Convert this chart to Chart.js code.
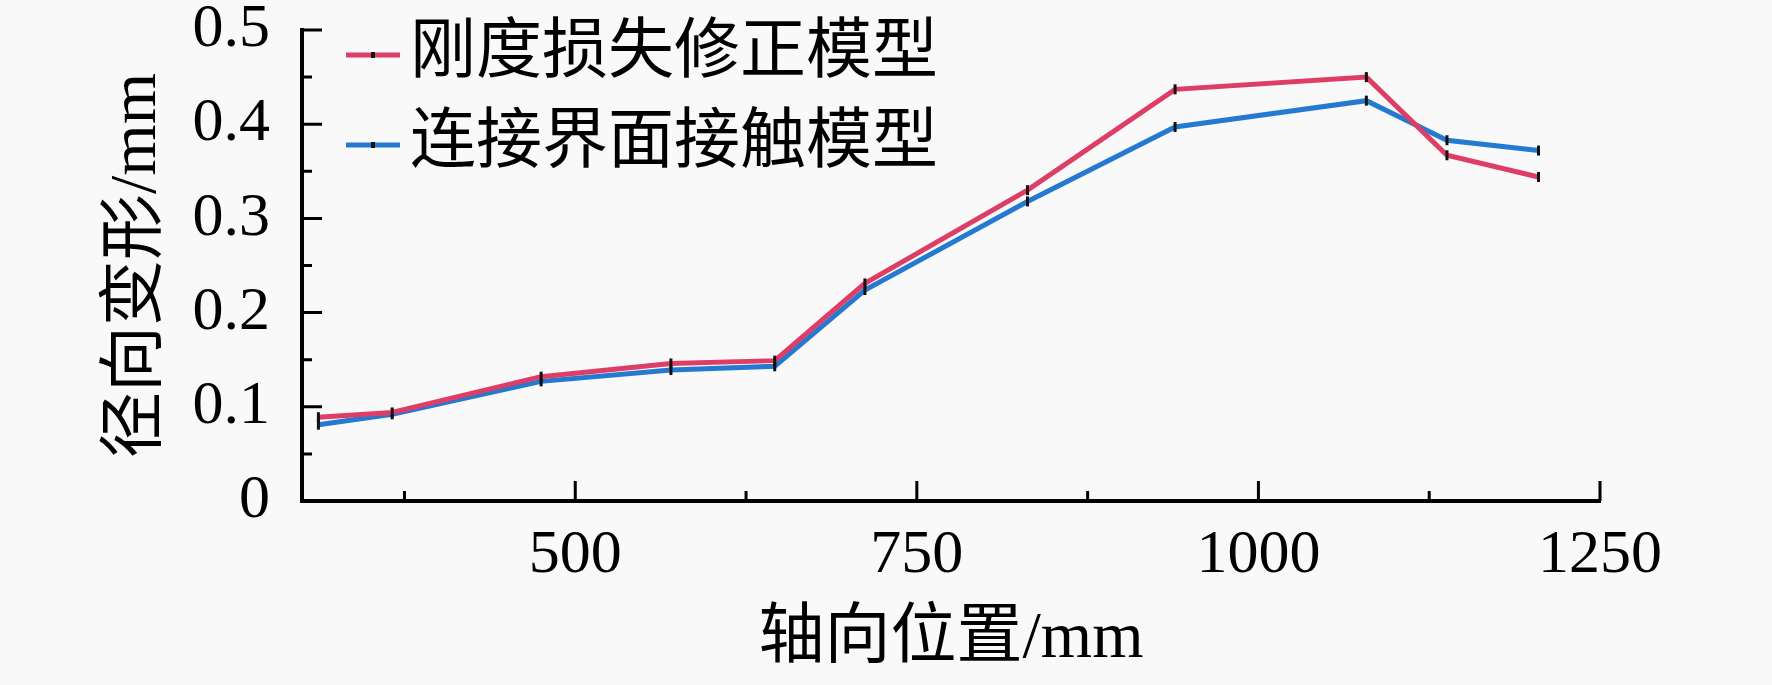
<!DOCTYPE html>
<html>
<head>
<meta charset="utf-8">
<script src="https://cdn.jsdelivr.net/npm/chart.js@4"></script>
<style>
  html, body { margin: 0; padding: 0; background: #f9f9f9; }
  #box { width: 1772px; height: 685px; }
</style>
</head>
<body>
<div id="box"><canvas id="grafico"></canvas></div>
<script>
const posicoes = [312, 366, 475, 570, 646, 712, 831, 939, 1079, 1138, 1205];
const rigidez = [0.089, 0.094, 0.132, 0.146, 0.149, 0.231, 0.330, 0.437, 0.450, 0.367, 0.344];
const contato = [0.081, 0.092, 0.127, 0.139, 0.143, 0.224, 0.318, 0.397, 0.425, 0.383, 0.372];
const nomes = ["刚度损失修正模型", "连接界面接触模型"];
const cores = ["#de3e66", "#2479d0"];
const xTicks = [500, 750, 1000, 1250];
const xMinor = [375, 625, 875, 1125];
const yTicks = [0, 0.1, 0.2, 0.3, 0.4, 0.5];
const yMinor = [0.05, 0.15, 0.25, 0.35, 0.45];

const fonte = '"Liberation Serif", "Noto Sans CJK SC", serif';

const pontos = vals => vals.map((v, i) => ({ x: posicoes[i], y: v }));

// inward tick marks, major and minor, plus the legend
const marcas = {
  id: "marcas",
  afterDraw(chart) {
    const { ctx, chartArea, scales } = chart;
    ctx.save();
    ctx.strokeStyle = "#000";
    ctx.lineWidth = 3;
    ctx.beginPath();
    xTicks.concat(xMinor).forEach(v => {
      const px = scales.x.getPixelForValue(v);
      const len = xTicks.includes(v) ? 20 : 10;
      ctx.moveTo(px, chartArea.bottom);
      ctx.lineTo(px, chartArea.bottom - len);
    });
    yTicks.concat(yMinor).forEach(v => {
      const py = scales.y.getPixelForValue(v);
      const len = yTicks.includes(v) ? 20 : 10;
      ctx.moveTo(chartArea.left, py);
      ctx.lineTo(chartArea.left + len, py);
    });
    ctx.stroke();

    chart.data.datasets.forEach((ds, i) => {
      const y = 55 + i * 90;
      ctx.strokeStyle = ds.borderColor;
      ctx.lineWidth = 5;
      ctx.beginPath();
      ctx.moveTo(346, y);
      ctx.lineTo(400, y);
      ctx.stroke();
      ctx.fillStyle = "#111";
      ctx.fillRect(371, y - 3, 4, 6);
      ctx.fillStyle = "#000";
      ctx.font = "66px " + fonte;
      ctx.textBaseline = "middle";
      ctx.textAlign = "left";
      ctx.fillText(ds.label, 410, y);
    });
    ctx.restore();
  }
};

new Chart(document.getElementById("grafico"), {
  type: "line",
  data: {
    datasets: [
      { label: nomes[0], data: pontos(rigidez), borderColor: cores[0] },
      { label: nomes[1], data: pontos(contato), borderColor: cores[1] }
    ].map(ds => Object.assign(ds, {
      borderWidth: 5,
      tension: 0,
      pointStyle: "line",
      rotation: 90,
      pointRadius: 5,
      pointBorderColor: "#111",
      pointBorderWidth: 3,
      pointBackgroundColor: "#111"
    }))
  },
  options: {
    responsive: true,
    maintainAspectRatio: false,
    animation: false,
    layout: { padding: { left: 0, right: 172, top: 30, bottom: 0 } },
    plugins: { legend: { display: false }, tooltip: { enabled: false } },
    scales: {
      x: {
        type: "linear",
        min: 300,
        max: 1250,
        afterBuildTicks: s => { s.ticks = xTicks.map(v => ({ value: v })); },
        afterFit: s => { s.height = 184; s.paddingLeft = 0; s.paddingRight = 0; },
        grid: { display: false },
        border: { display: true, color: "#000", width: 4 },
        ticks: { color: "#000", padding: 10, maxRotation: 0, callback: v => String(v), font: { family: fonte, size: 62 } },
        title: { display: true, text: "轴向位置/mm", color: "#000", padding: { top: 0, bottom: 6 }, font: { family: fonte, size: 66 } }
      },
      y: {
        min: 0,
        max: 0.5,
        afterBuildTicks: s => { s.ticks = yTicks.map(v => ({ value: v })); },
        afterFit: s => { s.width = 302; s.paddingTop = 0; s.paddingBottom = 0; },
        grid: { display: false },
        border: { display: true, color: "#000", width: 4 },
        ticks: { color: "#000", padding: 24, callback: v => String(v), font: { family: fonte, size: 62 } },
        title: { display: true, text: "径向变形/mm", color: "#000", padding: { top: 98, bottom: 0 }, font: { family: fonte, size: 66 } }
      }
    }
  },
  plugins: [marcas]
});
</script>
</body>
</html>
